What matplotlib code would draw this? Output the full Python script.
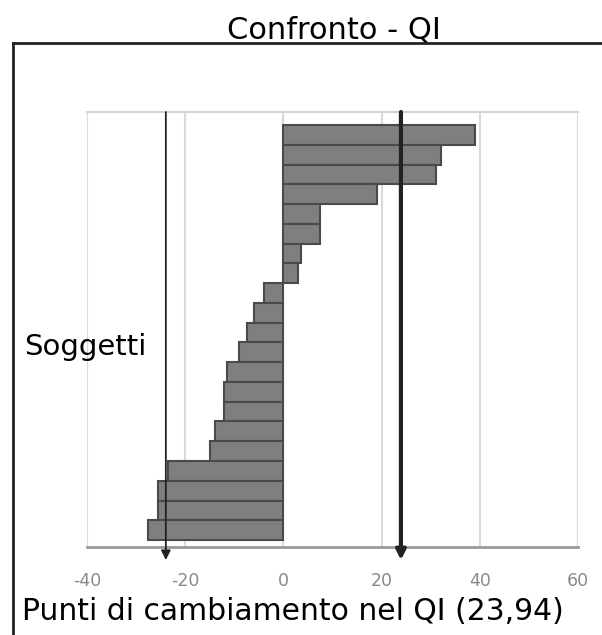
import matplotlib
matplotlib.use("Agg")
import matplotlib.pyplot as plt
from matplotlib.lines import Line2D

plt.rcParams["axes.unicode_minus"] = False

# variazione del QI per soggetto (dall'alto verso il basso)
variazioni = [39, 32, 31, 19, 7.5, 7.5, 3.5, 3,
              -4, -6, -7.5, -9, -11.5, -12, -12, -14, -15,
              -23.5, -25.5, -25.5, -27.5]
soglia = 23.94
tick_valori = [-40, -20, 0, 20, 40, 60]

fig = plt.figure(figsize=(6.02, 6.35), dpi=100)
ax = fig.add_axes([0.1445, 0.1386, 0.8156, 0.685])

n = len(variazioni)
pos = list(range(n - 1, -1, -1))
ax.barh(pos, variazioni, height=1.0, color="#7f7f7f", edgecolor="#4a4a4a", linewidth=1.5)

ax.set_xlim(-40, 60)
ax.set_ylim(-0.85, n - 0.5 + 0.66)
ax.set_xticks(tick_valori)
ax.set_yticks([])
ax.xaxis.grid(True, color="#dadada", linewidth=1.5)
ax.set_axisbelow(True)
ax.tick_params(axis="x", length=0, pad=18, labelsize=12.5, labelcolor="#8a8a8a")

for lato in ["left", "right"]:
    ax.spines[lato].set_visible(False)
ax.spines["top"].set_color("#d4d4d4")
ax.spines["top"].set_linewidth(1.5)
ax.spines["bottom"].set_color("#9a9a9a")
ax.spines["bottom"].set_linewidth(2)

# linee della soglia con freccia in basso
for x, lw in [(-soglia, 1.3), (soglia, 3)]:
    ax.annotate("", xy=(x, -0.03), xytext=(x, 1.0),
                xycoords=("data", "axes fraction"), textcoords=("data", "axes fraction"),
                arrowprops=dict(arrowstyle="-|>", color="#222222", lw=lw,
                                mutation_scale=14, shrinkA=0, shrinkB=0))

# cornice esterna
fig.add_artist(Line2D([0.0216, 0.0216], [0.932, 0.0], color="#222222", lw=2))
fig.add_artist(Line2D([0.0216, 1.0], [0.932, 0.932], color="#222222", lw=2))

fig.text(0.377, 0.940, "Confronto - QI", fontsize=22, ha="left", va="baseline")
fig.text(0.040, 0.441, "Soggetti", fontsize=21, ha="left", va="baseline")
fig.text(0.0365, 0.0236, "Punti di cambiamento nel QI (23,94)", fontsize=21.5,
         ha="left", va="baseline")

plt.savefig("out.png", dpi=100)
